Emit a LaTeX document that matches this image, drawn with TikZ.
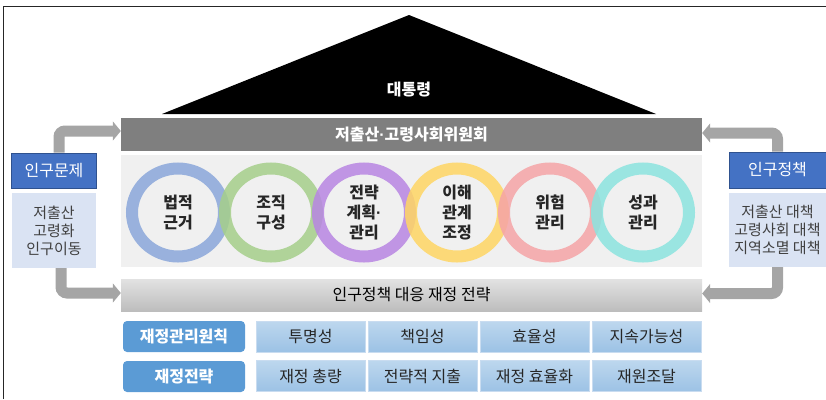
\documentclass[tikz,border=0pt]{standalone}
\usepackage{fontspec}
\setmainfont{Noto Sans CJK KR}
\newfontfamily\dotfont{Liberation Sans}
\usetikzlibrary{arrows.meta,shapes.geometric}
\definecolor{councilgray}{HTML}{7F7F7F}
\definecolor{panelgray}{HTML}{F0F0F0}
\definecolor{arrowgray}{HTML}{A5A5A5}
\definecolor{boxblue}{HTML}{4472C4}
\definecolor{boxblueline}{HTML}{2F528F}
\definecolor{listblue}{HTML}{DAE3F3}
\definecolor{labelblue}{HTML}{5B9BD5}
\definecolor{celltop}{HTML}{BDD7EE}
\definecolor{cellbot}{HTML}{9CC2E5}
\definecolor{cellline}{HTML}{C9DCF0}
\definecolor{stratTop}{HTML}{E2E2E2}
\definecolor{stratBot}{HTML}{BDBDBD}
\definecolor{ringblue}{HTML}{8AA7DA}
\definecolor{ringgreen}{HTML}{A5CF8A}
\definecolor{ringpurple}{HTML}{B886E2}
\definecolor{ringyellow}{HTML}{FFD663}
\definecolor{ringpink}{HTML}{F5A4A6}
\definecolor{ringcyan}{HTML}{8BE4DF}
\definecolor{darktext}{HTML}{262626}
\definecolor{listtext}{HTML}{404040}
\newcommand{\mdot}{{\dotfont ·}}
\tikzset{
  bar/.style={rectangle, inner sep=0pt, minimum width=581pt},
  ring/.style={ellipse, draw=#1, draw opacity=0.85, line width=12pt, minimum width=92pt,
    minimum height=88pt, inner sep=0pt,
    align=center, text=darktext, font=\fontsize{16}{20}\selectfont\bfseries},
  headbox/.style={rectangle, fill=boxblue, draw=boxblueline, line width=1pt, text=white, inner sep=0pt,
    font=\fontsize{16}{20}\selectfont},
  listbox/.style={rectangle, fill=listblue, inner sep=0pt, align=center, text=listtext,
    font=\fontsize{15}{18}\selectfont},
  labelbox/.style={rectangle, rounded corners=4pt, fill=labelblue, inner sep=0pt, minimum width=122pt,
    minimum height=31pt, text=white, font=\fontsize{16}{20}\selectfont\bfseries},
  cellbox/.style={rectangle, top color=celltop, bottom color=cellbot, draw=cellline, line width=0.6pt,
    inner sep=0pt, minimum width=109pt, minimum height=31pt, text=darktext, font=\fontsize{16}{20}\selectfont},
  flowarrow/.style={draw=arrowgray, line width=11pt, rounded corners=6pt,
    -{Triangle[length=8pt,width=19pt,fill=arrowgray]}},
}
\begin{document}
\begin{tikzpicture}[x=1pt,y=-1pt]
\useasboundingbox (0,0) rectangle (826,399);
% frame
\draw[line width=1.6pt, black!85] (3.5,399) -- (3.5,6.5) -- (826,6.5);
% roof
\fill[black] (162,114) -- (409,15) -- (656,114) -- cycle;
\node[font=\fontsize{16}{20}\selectfont\bfseries, text=white] (pres) at (409,90) {대통령};
% council bar
\node[bar, fill=councilgray, minimum height=33pt, text=white, font=\fontsize{16}{20}\selectfont\bfseries]
  (council) at (411.5,134.5) {저출산\mdot 고령사회위원회};
% panel
\node[bar, fill=panelgray, minimum height=112pt] (panel) at (411.5,211) {};
% rings
\node[ring=ringblue]   (c1) at (178,212.5) {법적\\근거};
\node[ring=ringgreen]  (c2) at (271,212.5) {조직\\구성};
\node[ring=ringpurple] (c3) at (364,212.5) {전략\\계획\mdot\\관리};
\node[ring=ringyellow] (c4) at (457,212.5) {이해\\관계\\조정};
\node[ring=ringpink]   (c5) at (550,212.5) {위험\\관리};
\node[ring=ringcyan]   (c6) at (643,212.5) {성과\\관리};
% strategy bar
\node[bar, top color=stratTop, bottom color=stratBot, minimum height=32pt, text=black,
  font=\fontsize{16}{20}\selectfont] (strat) at (411.5,295) {인구정책 대응 재정 전략};
% left boxes
\node[headbox, minimum width=85pt, minimum height=35pt] (prob) at (54,170.5) {인구문제};
\node[listbox, minimum width=84pt, minimum height=75pt] (probList) at (54,230.5) {저출산\\고령화\\인구이동};
% right boxes
\node[headbox, minimum width=97pt, minimum height=36pt] (pol) at (777.5,170) {인구정책};
\node[listbox, minimum width=97pt, minimum height=74pt] (polList) at (777.5,230) {저출산 대책\\고령사회 대책\\지역소멸 대책};
% arrows
\draw[flowarrow] ([xshift=5pt]prob.north) |- ([yshift=3.5pt]council.west);
\draw[flowarrow] (pol.north) |- ([yshift=1.5pt]council.east);
\draw[flowarrow] ([xshift=7pt]probList.south) |- ([yshift=2pt]strat.west);
\draw[flowarrow] (polList.south) |- ([yshift=1.5pt]strat.east);
% bottom rows
\node[labelbox] (lab1) at (184,336.5) {재정관리원칙};
\node[labelbox] (lab2) at (184,376.5) {재정전략};
\node[cellbox] (p1) at (310.5,336.5) {투명성};
\node[cellbox] (p2) at (422.5,336.5) {책임성};
\node[cellbox] (p3) at (534.5,336.5) {효율성};
\node[cellbox] (p4) at (646.5,336.5) {지속가능성};
\node[cellbox] (s1) at (310.5,376) {재정 총량};
\node[cellbox] (s2) at (422.5,376) {전략적 지출};
\node[cellbox] (s3) at (534.5,376) {재정 효율화};
\node[cellbox] (s4) at (646.5,376) {재원조달};
\end{tikzpicture}
\end{document}
